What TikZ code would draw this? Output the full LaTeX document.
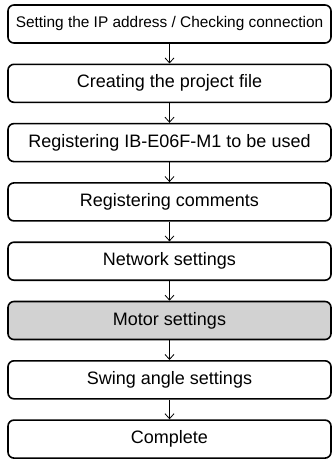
\documentclass[tikz,border=0pt]{standalone}
\usepackage{fontspec}
\setmainfont{Liberation Sans}
\usetikzlibrary{arrows.meta,positioning}

\tikzset{
  stepbox/.style={draw, line width=1.6pt, rounded corners=6pt, fill=white,
    minimum width=323pt, minimum height=38pt, inner sep=0pt,
    font=\fontsize{18}{20}\selectfont},
  activebox/.style={stepbox, fill=gray!35},
  flow/.style={-{Straight Barb[length=5pt,width=9pt]}, line width=0.8pt}
}

\begin{document}
\begin{tikzpicture}[node distance=19.7pt]
  \useasboundingbox (0,0) rectangle (332pt,-460pt);
  % steps
  \node[stepbox, font=\fontsize{15.4}{17}\selectfont] (ipaddr) at (169.5pt,-24pt)
    {Setting the IP address / Checking connection};
  \node[stepbox, below=of ipaddr] (project) {Creating the project file};
  \node[stepbox, below=of project] (register) {Registering IB-E06F-M1 to be used};
  \node[stepbox, below=of register] (comments) {Registering comments};
  \node[stepbox, below=of comments] (network) {Network settings};
  \node[activebox, below=of network] (motor) {Motor settings};
  \node[stepbox, below=of motor] (swing) {Swing angle settings};
  \node[stepbox, below=of swing] (complete) {Complete};

  % arrows
  \draw[flow] (ipaddr) -- (project);
  \draw[flow] (project) -- (register);
  \draw[flow] (register) -- (comments);
  \draw[flow] (comments) -- (network);
  \draw[flow] (network) -- (motor);
  \draw[flow] (motor) -- (swing);
  \draw[flow] (swing) -- (complete);
\end{tikzpicture}
\end{document}
